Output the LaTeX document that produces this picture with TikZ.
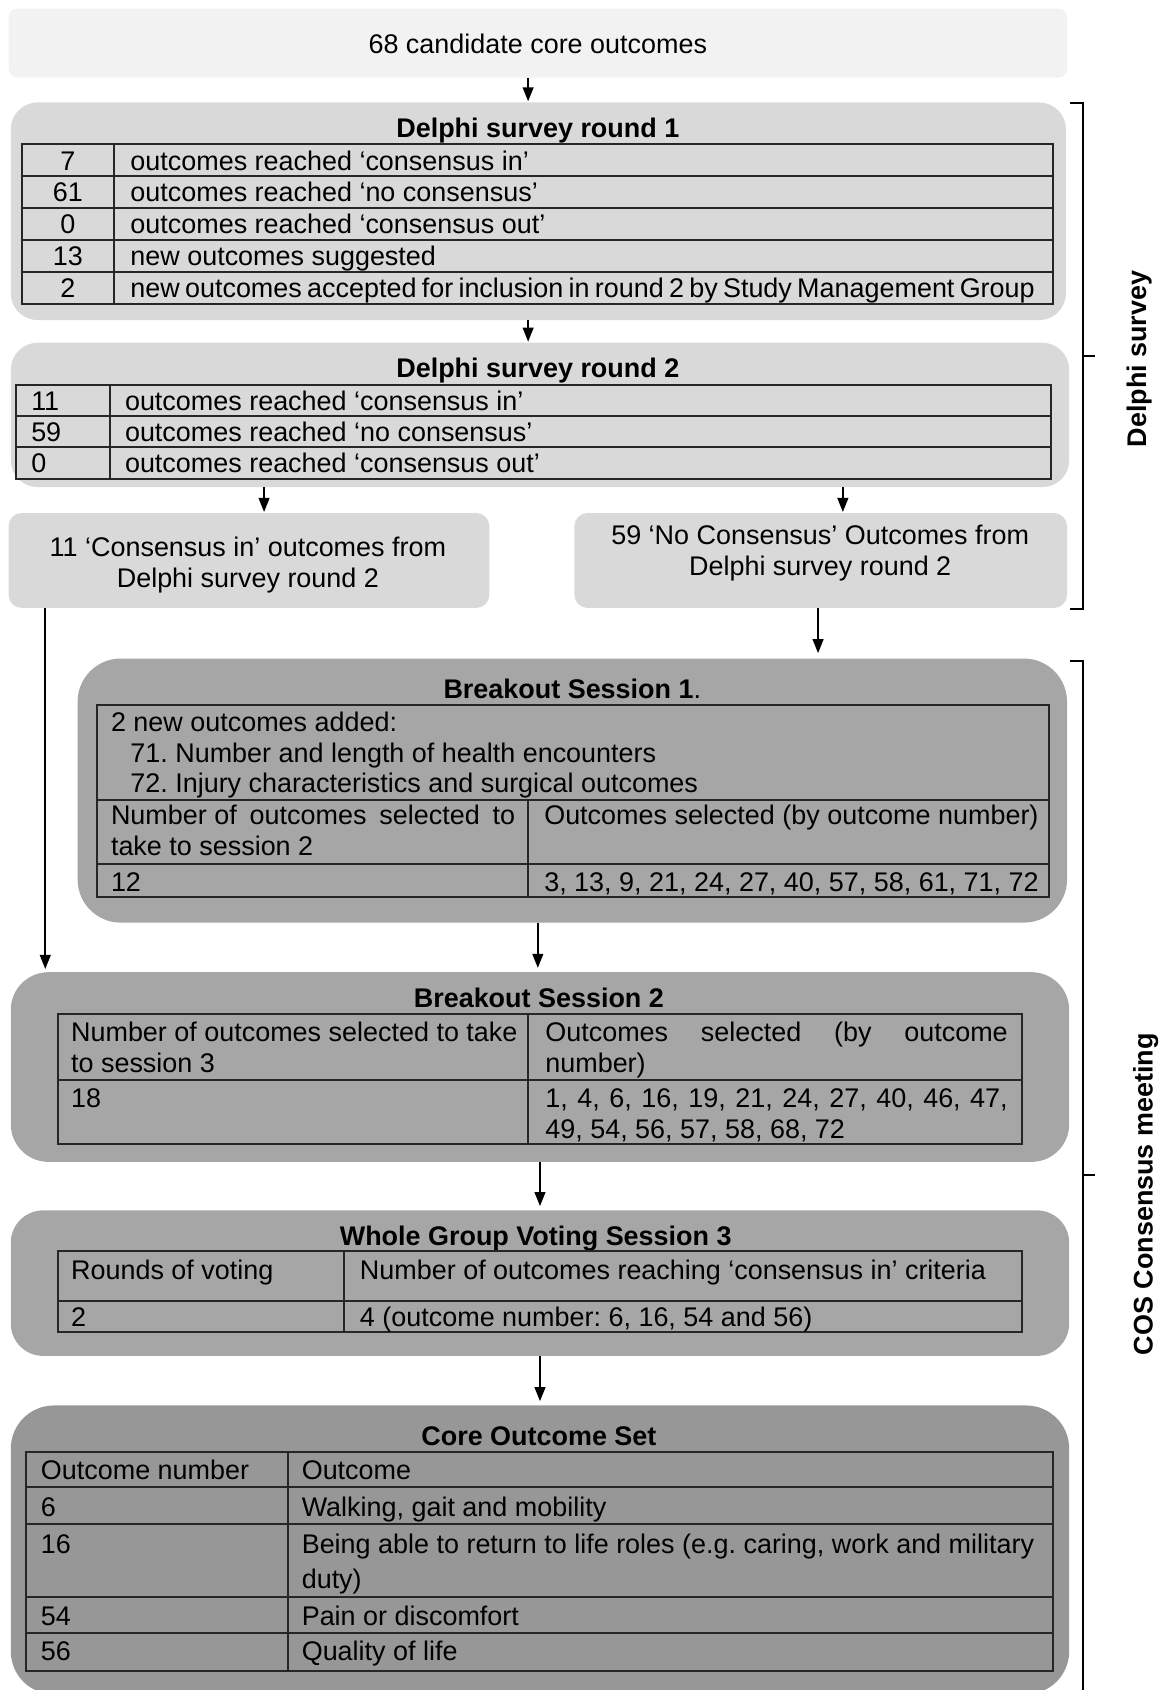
\documentclass[tikz,border=0pt]{standalone}
\usepackage{fontspec}
\setmainfont{Liberation Sans}
\usetikzlibrary{arrows.meta,calc}
\definecolor{topgray}{HTML}{F2F2F2}
\definecolor{lgray}{HTML}{D9D9D9}
\definecolor{mgray}{HTML}{A6A6A6}
\definecolor{dgray}{HTML}{979797}
\definecolor{gridc}{HTML}{262626}
\frenchspacing
\begin{document}
\begin{tikzpicture}[x=1pt,y=-1pt,
  every node/.style={font=\fontsize{25}{29.5}\selectfont, inner sep=0pt, outer sep=0pt, text=black},
  box/.style={draw=none, rectangle, inner sep=0pt},
  tline/.style={draw=gridc, line width=1.8pt},
  arr/.style={line width=1.6pt, -{Triangle[width=10pt,length=13pt]}, shorten >=1pt},
  brk/.style={line width=1.8pt},
  ttl/.style={font=\fontsize{25}{29.5}\selectfont\bfseries, anchor=base},
  tx/.style={anchor=base west},
  tc/.style={anchor=base},
]
\useasboundingbox (0,0) rectangle (1079,1568);

% ---------- boxes ----------
\node[box, fill=topgray, rounded corners=8pt, minimum width=982pt, minimum height=64pt] (top) at (499,40) {};
\node[box, fill=lgray, rounded corners=25pt, minimum width=979pt, minimum height=202pt] (r1) at (499.5,196) {};
\node[box, fill=lgray, rounded corners=25pt, minimum width=982pt, minimum height=134pt] (r2) at (501,385) {};
\node[box, fill=lgray, rounded corners=12pt, minimum width=446pt, minimum height=88pt] (cin) at (231,520) {};
\node[box, fill=lgray, rounded corners=12pt, minimum width=457pt, minimum height=88pt] (ncon) at (761.5,520) {};
\node[box, fill=mgray, rounded corners=40pt, minimum width=918pt, minimum height=245pt] (b1) at (531,733.5) {};
\node[box, fill=mgray, rounded corners=35pt, minimum width=982pt, minimum height=176pt] (b2) at (501,990) {};
\node[box, fill=mgray, rounded corners=30pt, minimum width=982pt, minimum height=135pt] (vote) at (501,1190.5) {};
\node[box, fill=dgray, rounded corners=40pt, minimum width=982pt, minimum height=268pt] (core) at (501,1438) {};

% ---------- top ----------
\node[tc] (toptxt) at (499,50) {68 candidate core outcomes};

% ---------- round 1 ----------
\node[ttl] (r1t) at (499,128) {Delphi survey round 1};
\draw[tline] (20,134) rectangle (977,282);
\foreach \yy in {163.6,193.2,222.8,252.4} \draw[tline] (20,\yy) -- (977,\yy);
\draw[tline] (106,134) -- (106,282);
\node[tc] (r1n1) at (63,157.8) {7};
\node[tc] (r1n2) at (63,187.4) {61};
\node[tc] (r1n3) at (63,217) {0};
\node[tc] (r1n4) at (63,246.6) {13};
\node[tc] (r1n5) at (63,276.2) {2};
\node[tx] (r1c1) at (121,157.8) {outcomes reached ‘consensus in’};
\node[tx] (r1c2) at (121,187.4) {outcomes reached ‘no consensus’};
\node[tx] (r1c3) at (121,217) {outcomes reached ‘consensus out’};
\node[tx] (r1c4) at (121,246.6) {new outcomes suggested};
\node[tx] (r1c5) at (121,276.2) {\spaceskip=4.9pt plus 1pt minus 1pt new outcomes accepted for inclusion in round 2 by Study Management Group};

% ---------- round 2 ----------
\node[ttl] (r2t) at (499,350) {Delphi survey round 2};
\draw[tline] (15,357) rectangle (975,444);
\foreach \yy in {386,415} \draw[tline] (15,\yy) -- (975,\yy);
\draw[tline] (102,357) -- (102,444);
\node[tx] (r2n1) at (29,380.5) {11};
\node[tx] (r2n2) at (29,409.5) {59};
\node[tx] (r2n3) at (29,438.5) {0};
\node[tx] (r2c1) at (116,380.5) {outcomes reached ‘consensus in’};
\node[tx] (r2c2) at (116,409.5) {outcomes reached ‘no consensus’};
\node[tx] (r2c3) at (116,438.5) {outcomes reached ‘consensus out’};

% ---------- split boxes ----------
\node[tc] (cin1) at (230,516) {11 ‘Consensus in’ outcomes from};
\node[tc] (cin2) at (230,545) {Delphi survey round 2};
\node[tc] (nc1) at (761,505) {59 ‘No Consensus’ Outcomes from};
\node[tc] (nc2) at (761,534) {Delphi survey round 2};

% ---------- breakout 1 ----------
\node[tc] (b1t) at (531,648) {\textbf{Breakout Session 1}.};
\draw[tline] (90,654) rectangle (973,832);
\draw[tline] (90,742) -- (973,742);
\draw[tline] (90,802) -- (973,802);
\draw[tline] (490,742) -- (490,832);
\node[tx] (b1a) at (103,679) {2 new outcomes added:};
\node[tx] (b1b) at (121,707) {71. Number and length of health encounters};
\node[tx] (b1c) at (121,735) {72. Injury characteristics and surgical outcomes};
\node[tx] (b1d) at (103,765) {\hbox to 375pt{Number of\hfill outcomes\hfill selected\hfill to}};
\node[tx] (b1e) at (103,794) {take to session 2};
\node[tx] (b1f) at (505,765) {Outcomes selected (by outcome number)};
\node[tx] (b1g) at (103,827) {12};
\node[tx] (b1h) at (505,827) {3, 13, 9, 21, 24, 27, 40, 57, 58, 61, 71, 72};

% ---------- breakout 2 ----------
\node[ttl] (b2t) at (500,935) {Breakout Session 2};
\draw[tline] (54,941) rectangle (948,1061);
\draw[tline] (54,1002) -- (948,1002);
\draw[tline] (490,941) -- (490,1061);
\node[tx] (b2a) at (66,966) {Number of outcomes selected to take};
\node[tx] (b2b) at (66,995) {to session 3};
\node[tx] (b2c) at (506,966) {\hbox to 429pt{Outcomes\hfill selected\hfill (by\hfill outcome}};
\node[tx] (b2d) at (506,995) {number)};
\node[tx] (b2e) at (66,1028) {18};
\node[tx] (b2f) at (506,1028) {\hbox to 429pt{1,\hfill 4,\hfill 6,\hfill 16,\hfill 19,\hfill 21,\hfill 24,\hfill 27,\hfill 40,\hfill 46,\hfill 47,}};
\node[tx] (b2g) at (506,1056) {49, 54, 56, 57, 58, 68, 72};

% ---------- voting ----------
\node[ttl] (vt) at (497,1156) {Whole Group Voting Session 3};
\draw[tline] (54,1161) rectangle (948,1236);
\draw[tline] (54,1207) -- (948,1207);
\draw[tline] (319,1161) -- (319,1236);
\node[tx] (va) at (66,1187) {Rounds of voting};
\node[tx] (vb) at (334,1187) {Number of outcomes reaching ‘consensus in’ criteria};
\node[tx] (vc) at (66,1231) {2};
\node[tx] (vd) at (334,1231) {4 (outcome number: 6, 16, 54 and 56)};

% ---------- core ----------
\node[ttl] (ct) at (500,1341) {Core Outcome Set};
\draw[tline] (24,1347) rectangle (977,1550);
\foreach \yy in {1380,1414,1482,1515} \draw[tline] (24,\yy) -- (977,\yy);
\draw[tline] (267,1347) -- (267,1550);
\node[tx] (ca1) at (38,1373) {Outcome number};
\node[tx] (cb1) at (280,1373) {Outcome};
\node[tx] (ca2) at (38,1407) {6};
\node[tx] (cb2) at (280,1407) {Walking, gait and mobility};
\node[tx] (ca3) at (38,1441) {16};
\node[tx] (cb3) at (280,1441) {Being able to return to life roles (e.g. caring, work and military};
\node[tx] (cb3b) at (280,1474) {duty)};
\node[tx] (ca4) at (38,1508) {54};
\node[tx] (cb4) at (280,1508) {Pain or discomfort};
\node[tx] (ca5) at (38,1541) {56};
\node[tx] (cb5) at (280,1541) {Quality of life};

% ---------- connectors ----------
\coordinate (x490) at (490,0);
\coordinate (x245) at (245,0);
\coordinate (x782) at (782,0);
\coordinate (x759) at (759,0);
\coordinate (x42) at (42,0);
\coordinate (x499) at (499,0);
\coordinate (x501) at (501,0);
\draw[arr] (top.south -| x490) -- (r1.north -| x490);
\draw[arr] (r1.south -| x490) -- (r2.north -| x490);
\draw[arr] (r2.south -| x245) -- (cin.north -| x245);
\draw[arr] (r2.south -| x782) -- (ncon.north -| x782);
\draw[arr, shorten >=5pt] (ncon.south -| x759) -- (b1.north -| x759);
\draw[arr, shorten >=3pt] (cin.south -| x42) -- (b2.north -| x42);
\draw[arr, shorten >=4pt] (b1.south -| x499) -- (b2.north -| x499);
\draw[arr, shorten >=4pt] (b2.south -| x501) -- (vote.north -| x501);
\draw[arr, shorten >=4pt] (vote.south -| x501) -- (core.north -| x501);

% ---------- brackets ----------
\draw[brk] (993,96) -- (1005,96) -- (1005,565) -- (993,565);
\draw[brk] (1005,330) -- (1016,330);
\node[rotate=90, font=\fontsize{25}{29.5}\selectfont\bfseries] (lbl1) at (1057,333) {Delphi survey};
\draw[brk] (993,613) -- (1005,613) -- (1005,1580);
\draw[brk] (1005,1090) -- (1016,1090);
\node[rotate=90, font=\fontsize{25}{29.5}\selectfont\bfseries] (lbl2) at (1063,1108) {COS Consensus meeting};
\end{tikzpicture}
\end{document}
